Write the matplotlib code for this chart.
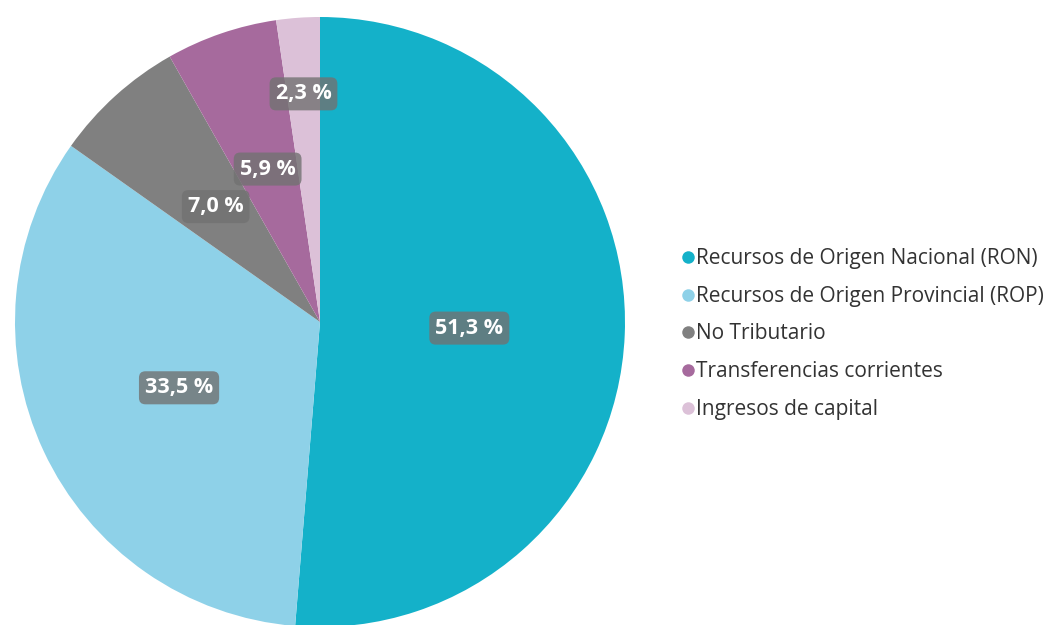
import numpy as np
import matplotlib.pyplot as plt
from matplotlib.lines import Line2D

plt.rcParams['font.family'] = ['Open Sans', 'DejaVu Sans']

# data
categories = ['Recursos de Origen Nacional (RON)',
              'Recursos de Origen Provincial (ROP)',
              'No Tributario',
              'Transferencias corrientes',
              'Ingresos de capital']
shares = [51.3, 33.5, 7.0, 5.9, 2.3]
colors = ['#14B1C9', '#8ED1E8', '#808080', '#A66A9D', '#DCC1D8']
label_dist = [0.49, 0.51, 0.51, 0.53, 0.75]

W, H = 1056, 625
fig = plt.figure(figsize=(W / 100, H / 100), dpi=100)
ax = fig.add_axes([0, 0, 1, 1])

cx, cy, r = 320, H - 322, 305
wedges, _ = ax.pie(shares, colors=colors, startangle=90, counterclock=False,
                   center=(cx, cy), radius=r, frame=True,
                   wedgeprops=dict(linewidth=0))

for w, val, d in zip(wedges, shares, label_dist):
    ang = np.deg2rad((w.theta1 + w.theta2) / 2)
    x = cx + d * r * np.cos(ang)
    y = cy + d * r * np.sin(ang)
    ax.text(x, y, f"{val:.1f} %".replace('.', ','), ha='center', va='center',
            color='white', fontsize=15.5, fontweight='bold',
            bbox=dict(boxstyle='round,pad=0.28,rounding_size=0.3',
                      fc='#727272', ec='none', alpha=0.8))

ax.set_xlim(0, W)
ax.set_ylim(0, H)
ax.set_aspect('equal')
ax.axis('off')

handles = [Line2D([], [], marker='o', linestyle='none', markersize=9,
                  markerfacecolor=c, markeredgecolor='none') for c in colors]
fig.legend(handles, categories, loc='center left',
           bbox_to_anchor=(672 / W, 1 - 334 / H), frameon=False,
           fontsize=15, handlelength=0.55, handletextpad=0.12,
           labelspacing=0.8, borderpad=0, labelcolor='#333333')

fig.savefig('out.png', dpi=100)
